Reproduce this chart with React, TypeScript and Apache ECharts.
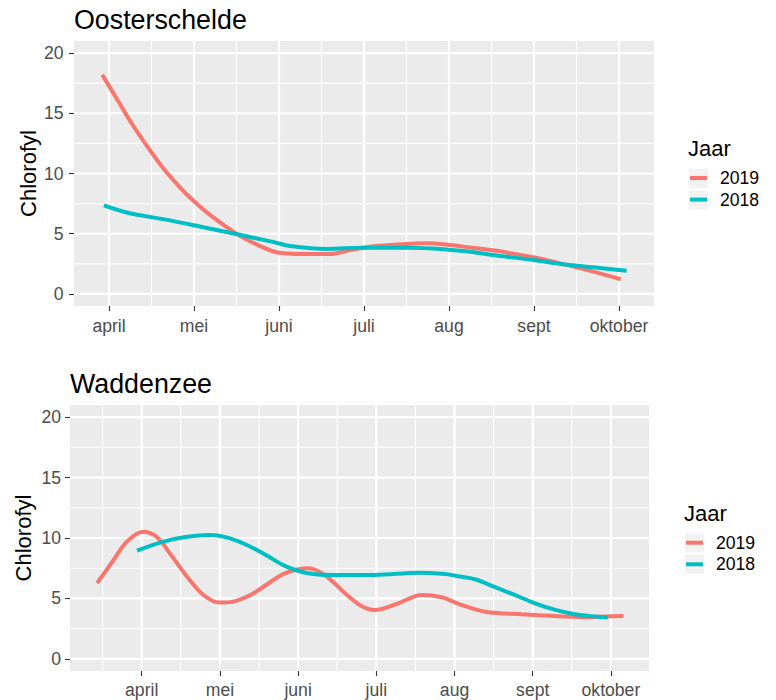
import React, { useEffect, useRef } from "react";
import * as echarts from "echarts";

const MONTHS = ["april", "mei", "juni", "juli", "aug", "sept", "oktober"];
const MONTH_POS = [0, 1, 2, 3, 4, 5, 6];
const X_MINOR = [-0.5, 0.5, 1.5, 2.5, 3.5, 4.5, 5.5, 6.5];
const Y_TICKS = [0, 5, 10, 15, 20];
const Y_MINOR = [2.5, 7.5, 12.5, 17.5];
const SERIES_NAMES = ["2019", "2018"];
const COLORS = ["#F8766D", "#00BFC4"];

// x = months since april (0 = april ... 6 = oktober), y = chlorofyl
const oosterschelde2019 = [
  [-0.08, 18.2], [0.1, 16.1], [0.29, 13.9], [0.49, 11.85], [0.65, 10.33], [0.84, 8.81],
  [1.0, 7.7], [1.18, 6.6], [1.51, 4.95], [1.71, 4.2], [1.92, 3.56], [2.05, 3.37],
  [2.29, 3.31], [2.6, 3.31], [2.84, 3.65], [3.07, 3.92], [3.31, 4.06], [3.74, 4.2],
  [4.01, 4.06], [4.25, 3.85], [4.52, 3.62], [4.99, 3.04], [5.31, 2.54], [5.7, 1.85], [6.02, 1.22],
];
const oosterschelde2018 = [
  [-0.06, 7.35], [0.22, 6.74], [0.65, 6.19], [1.08, 5.58], [1.51, 4.95], [1.94, 4.3],
  [2.13, 3.98], [2.56, 3.73], [2.99, 3.84], [3.54, 3.84], [3.97, 3.7], [4.25, 3.5],
  [4.52, 3.23], [4.99, 2.82], [5.31, 2.49], [5.7, 2.21], [6.09, 1.93],
];
const waddenzee2019 = [
  [-0.57, 6.26], [-0.36, 8.18], [-0.19, 9.7], [0.02, 10.52], [0.19, 10.1], [0.36, 8.73],
  [0.58, 6.8], [0.79, 5.29], [1.0, 4.66], [1.17, 4.74], [1.39, 5.29], [1.6, 6.15],
  [1.83, 7.08], [2.13, 7.5], [2.34, 6.94], [2.6, 5.43], [2.81, 4.38], [2.98, 4.05],
  [3.28, 4.6], [3.58, 5.29], [3.84, 5.1], [4.01, 4.66], [4.22, 4.19], [4.43, 3.86],
  [4.86, 3.69], [5.29, 3.55], [5.71, 3.45], [5.92, 3.5], [6.16, 3.55],
];
const waddenzee2018 = [
  [-0.06, 8.95], [0.28, 9.7], [0.58, 10.1], [0.87, 10.25], [1.13, 9.97], [1.39, 9.28],
  [1.6, 8.55], [1.83, 7.69], [2.09, 7.13], [2.43, 6.94], [2.98, 6.94], [3.54, 7.13],
  [3.88, 7.02], [4.01, 6.88], [4.26, 6.59], [4.52, 5.93], [4.77, 5.29], [5.03, 4.6],
  [5.29, 4.05], [5.54, 3.69], [5.8, 3.5], [5.96, 3.42],
];

const FONT = "'Liberation Sans', Arial, sans-serif";
const Y_MIN = -1;
const Y_MAX = 21;

const PANELS = [
  {
    title: "Oosterschelde",
    grid: { left: 74, top: 41, width: 580, height: 265 },
    xMin: -0.412, xMax: 6.412,
    titlePos: { left: 74, top: 6 },
    legendTitlePos: { left: 688, top: 137 },
    legendPos: { left: 690, top: 168 },
    keyX: 689, keyCenters: [178.3, 200],
    xLabelMargin: 10.5, yLabelMargin: 10.5, nameGap: 35,
    data: [oosterschelde2019, oosterschelde2018],
  },
  {
    title: "Waddenzee",
    grid: { left: 70, top: 405, width: 579, height: 266 },
    xMin: -0.917, xMax: 6.487,
    titlePos: { left: 70, top: 370 },
    legendTitlePos: { left: 684, top: 502 },
    legendPos: { left: 686, top: 532.7 },
    keyX: 685, keyCenters: [542.7, 564.3],
    xLabelMargin: 9.5, yLabelMargin: 9, nameGap: 36,
    data: [waddenzee2019, waddenzee2018],
  },
];

export default function App() {
  const ref = useRef<HTMLDivElement>(null);
  useEffect(() => {
    document.body.style.margin = "0";
    if (!ref.current) return;
    const chart = echarts.init(ref.current, undefined, { renderer: "svg" });

    const titles: any[] = [];
    const grids: any[] = [];
    const xAxes: any[] = [];
    const yAxes: any[] = [];
    const series: any[] = [];
    const legends: any[] = [];
    const graphics: any[] = [];

    PANELS.forEach((p, gi) => {
      titles.push({
        text: p.title, left: p.titlePos.left, top: p.titlePos.top, padding: 0,
        textStyle: { fontFamily: FONT, fontSize: 26.8, fontWeight: "normal", color: "#000" },
      });
      titles.push({
        text: "Jaar", left: p.legendTitlePos.left, top: p.legendTitlePos.top, padding: 0,
        textStyle: { fontFamily: FONT, fontSize: 22, fontWeight: "normal", color: "#000" },
      });
      grids.push({ ...p.grid, show: true, backgroundColor: "#EBEBEB", borderWidth: 0, containLabel: false });

      xAxes.push({
        type: "value", gridIndex: gi, min: p.xMin, max: p.xMax, position: "bottom",
        axisLine: { show: false, onZero: false },
        axisTick: { show: true, customValues: MONTH_POS, length: 5, lineStyle: { color: "#333333", width: 1.1 } },
        axisLabel: {
          customValues: MONTH_POS, formatter: (v: number) => MONTHS[Math.round(v)] ?? "",
          color: "#4D4D4D", fontSize: 17.6, fontFamily: FONT, margin: p.xLabelMargin,
        },
        splitLine: { show: false },
      });
      yAxes.push({
        type: "value", gridIndex: gi, min: Y_MIN, max: Y_MAX, position: "left",
        name: "Chlorofyl", nameLocation: "middle", nameRotate: 90, nameGap: p.nameGap,
        nameMoveOverlap: false,
        nameTextStyle: { fontFamily: FONT, fontSize: 22, color: "#000" },
        axisLine: { show: false, onZero: false },
        axisTick: { show: true, customValues: Y_TICKS, length: 5, lineStyle: { color: "#333333", width: 1.1 } },
        axisLabel: { customValues: Y_TICKS, color: "#4D4D4D", fontSize: 17.6, fontFamily: FONT, margin: p.yLabelMargin },
        splitLine: { show: false },
      });

      // gridlines: [value, lineWidth, orientation(0 = vertical, 1 = horizontal)]
      const gridData: number[][] = [];
      X_MINOR.filter((v) => v > p.xMin && v < p.xMax).forEach((v) => gridData.push([v, 1.1, 0]));
      Y_MINOR.forEach((v) => gridData.push([v, 1.1, 1]));
      MONTH_POS.forEach((v) => gridData.push([v, 2.2, 0]));
      Y_TICKS.forEach((v) => gridData.push([v, 2.2, 1]));
      series.push({
        type: "custom", xAxisIndex: gi, yAxisIndex: gi, silent: true, z: 1, clip: false,
        data: gridData,
        encode: { x: -1, y: -1 },
        renderItem: (params: any, api: any) => {
          const cs = params.coordSys;
          const val = api.value(0);
          const w = api.value(1);
          if (api.value(2) === 0) {
            const x = api.coord([val, 0])[0];
            return { type: "line", shape: { x1: x, y1: cs.y, x2: x, y2: cs.y + cs.height }, style: { stroke: "#FFFFFF", lineWidth: w } };
          }
          const y = api.coord([0, val])[1];
          return { type: "line", shape: { x1: cs.x, y1: y, x2: cs.x + cs.width, y2: y }, style: { stroke: "#FFFFFF", lineWidth: w } };
        },
      });

      p.data.forEach((d, si) => {
        series.push({
          type: "line", name: SERIES_NAMES[si], xAxisIndex: gi, yAxisIndex: gi,
          data: d, smooth: 0.35, showSymbol: false, symbol: "none", z: 3 + si,
          lineStyle: { color: COLORS[si], width: 4, cap: "butt" },
          itemStyle: { color: COLORS[si] },
          emphasis: { disabled: true },
        });
      });

      legends.push({
        left: p.legendPos.left, top: p.legendPos.top, orient: "vertical", padding: 0,
        data: SERIES_NAMES, icon: "rect", itemWidth: 17, itemHeight: 4, itemGap: 1.6,
        selectedMode: false,
        textStyle: { fontFamily: FONT, fontSize: 17.6, color: "#000", lineHeight: 20, padding: [0, 0, 0, 8] },
      });

      p.keyCenters.forEach((c) => {
        graphics.push({
          type: "rect", shape: { x: p.keyX, y: c - 9.5, width: 19, height: 19 },
          style: { fill: "#F2F2F2" }, z: 0, silent: true,
        });
      });
    });

    chart.setOption({
      animation: false,
      backgroundColor: "#FFFFFF",
      title: titles,
      grid: grids,
      xAxis: xAxes,
      yAxis: yAxes,
      legend: legends,
      graphic: graphics,
      series,
      tooltip: { show: false },
    });
    return () => chart.dispose();
  }, []);
  return <div ref={ref} style={{ width: 776, height: 700 }} />;
}
